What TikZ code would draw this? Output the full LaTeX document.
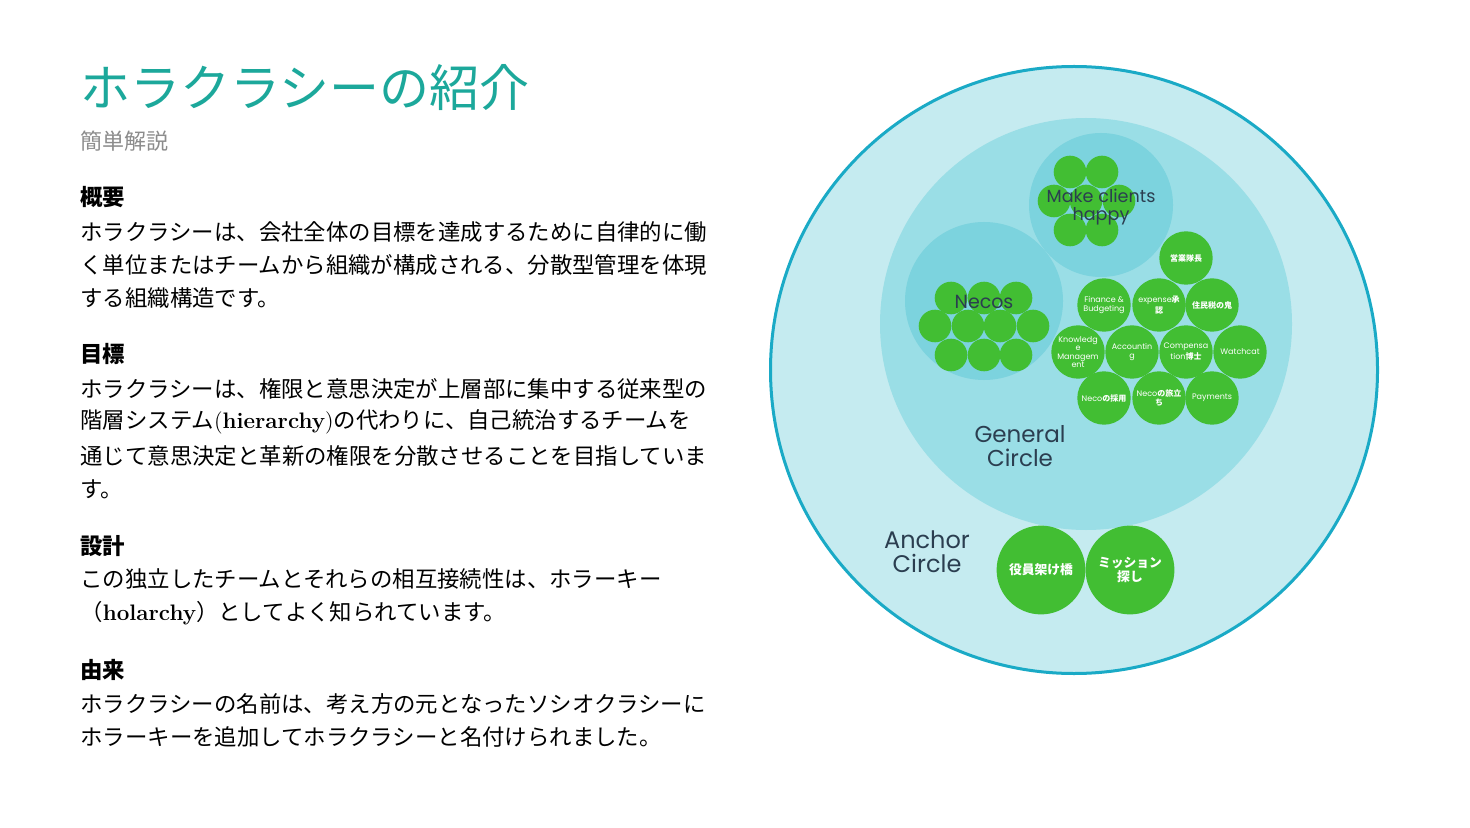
\documentclass[tikz,border=0pt]{standalone}
\usepackage{fontspec}
\newfontfamily\cjk{Noto Sans CJK JP}
\newfontfamily\pop{Poppins}
\definecolor{titlec}{RGB}{28,168,155}
\definecolor{subc}{RGB}{140,140,140}
\definecolor{outerfill}{RGB}{197,235,240}
\definecolor{outerline}{RGB}{26,170,198}
\definecolor{genfill}{RGB}{154,222,230}
\definecolor{subfill}{RGB}{124,211,222}
\definecolor{green}{RGB}{66,190,51}
\definecolor{navy}{RGB}{43,62,80}
\tikzset{
  body/.style={anchor=west, inner sep=0pt, font=\cjk\fontsize{11.2}{14}\selectfont},
  head/.style={anchor=west, inner sep=0pt, font=\cjk\bfseries\fontsize{11.2}{14}\selectfont},
  gsmall/.style={circle, fill=green, minimum size=16.3pt, inner sep=0pt},
  gmid/.style={circle, fill=green, minimum size=26.7pt, inner sep=0pt, text=white, align=center,
    font=\pop\fontsize{4}{4.1}\selectfont},
  gbig/.style={circle, fill=green, minimum size=44.4pt, inner sep=0pt, text=white, align=center,
    font=\cjk\bfseries\fontsize{6.4}{7}\selectfont},
  clab/.style={text=navy, align=center, inner sep=0pt}
}
\begin{document}
\begin{tikzpicture}[x=0.5pt, y=-0.5pt]
\useasboundingbox (0,0) rectangle (1470,828);
\fill[white] (0,0) rectangle (1470,828);
% left text
\node[anchor=west, inner sep=0pt, text=titlec, font=\cjk\fontsize{25}{28}\selectfont] (title) at (80,88) {ホラクラシーの紹介};
\node[anchor=west, inner sep=0pt, text=subc, font=\cjk\fontsize{11}{14}\selectfont] (sub) at (80,141) {簡単解説};

\node[head] (h1) at (80,197) {概要};
\node[body] (t11) at (80,232) {ホラクラシーは、会社全体の目標を達成するために自律的に働};
\node[body] (t12) at (80,265) {く単位またはチームから組織が構成される、分散型管理を体現};
\node[body] (t13) at (80,298) {する組織構造です。};

\node[head] (h2) at (80,354) {目標};
\node[body] (t21) at (80,389) {ホラクラシーは、権限と意思決定が上層部に集中する従来型の};
\node[body] (t22) at (80,422) {階層システム{\normalfont(\textbf{hierarchy})}の代わりに、自己統治するチームを};
\node[body] (t23) at (80,456) {通じて意思決定と革新の権限を分散させることを目指していま};
\node[body] (t24) at (80,489) {す。};

\node[head] (h3) at (80,546) {設計};
\node[body] (t31) at (80,579) {この独立したチームとそれらの相互接続性は、ホラーキー};
\node[body] (t32) at (80,613) {（{\normalfont\textbf{holarchy}}）としてよく知られています。};

\node[head] (h4) at (80,670) {由来};
\node[body] (t41) at (80,704) {ホラクラシーの名前は、考え方の元となったソシオクラシーに};
\node[body] (t42) at (80,737) {ホラーキーを追加してホラクラシーと名付けられました。};

% circles
\node[circle, fill=outerfill, draw=outerline, line width=1.5pt, minimum size=303.5pt, inner sep=0pt] (anchor) at (1074,370) {};
\node[circle, fill=genfill, minimum size=206pt, inner sep=0pt] (general) at (1086,324) {};
\node[circle, fill=subfill, minimum size=72pt, inner sep=0pt] (mch) at (1101,205) {};
\node[circle, fill=subfill, minimum size=79pt, inner sep=0pt] (necos) at (984,301) {};

% make clients happy greens
\node[gsmall] (m1) at (1070,172) {};
\node[gsmall] (m2) at (1102,172) {};
\node[gsmall] (m3) at (1054,201) {};
\node[gsmall] (m4) at (1086,201) {};
\node[gsmall] (m5) at (1119,201) {};
\node[gsmall] (m6) at (1070,230) {};
\node[gsmall] (m7) at (1102,230) {};

% necos greens
\node[gsmall] (n1) at (951,298) {};
\node[gsmall] (n2) at (984,298) {};
\node[gsmall] (n3) at (1016,298) {};
\node[gsmall] (n4) at (935,326) {};
\node[gsmall] (n5) at (968,326) {};
\node[gsmall] (n6) at (1000,326) {};
\node[gsmall] (n7) at (1033,326) {};
\node[gsmall] (n8) at (951,355) {};
\node[gsmall] (n9) at (984,355) {};
\node[gsmall] (n10) at (1016,355) {};

% role circles
\node[gmid] (r1) at (1186,258) {{\cjk\bfseries 営業隊長}};
\node[gmid] (r2) at (1104,305) {Finance \&\\Budgeting};
\node[gmid] (r3) at (1159,305) {expense{\cjk\bfseries 承}\\{\cjk\bfseries 認}};
\node[gmid] (r4) at (1212,305) {{\cjk\bfseries 住民税の鬼}};
\node[gmid] (r5) at (1078,352) {Knowledg\\e\\Managem\\ent};
\node[gmid] (r6) at (1132,352) {Accountin\\g};
\node[gmid] (r7) at (1186,352) {Compensa\\tion{\cjk\bfseries 博士}};
\node[gmid] (r8) at (1240,352) {Watchcat};
\node[gmid] (r9) at (1104,398) {Neco{\cjk\bfseries の採用}};
\node[gmid] (r10) at (1159,398) {Neco{\cjk\bfseries の旅立}\\{\cjk\bfseries ち}};
\node[gmid] (r11) at (1212,398) {Payments};

% anchor circle roles
\node[gbig] (a1) at (1041,570) {役員架け橋};
\node[gbig] (a2) at (1130,570) {ミッション\\探し};

% labels
\node[clab, font=\pop\fontsize{8.8}{8.8}\selectfont] (lmch) at (1101,207) {Make clients\\happy};
\node[clab, font=\pop\fontsize{9.5}{10}\selectfont] (lnecos) at (984,302) {Necos};
\node[clab, font=\pop\fontsize{11.5}{12}\selectfont] (lgen) at (1020,446) {General\\Circle};
\node[clab, font=\pop\fontsize{12}{12}\selectfont] (lanc) at (927,552) {Anchor\\Circle};
\end{tikzpicture}
\end{document}
